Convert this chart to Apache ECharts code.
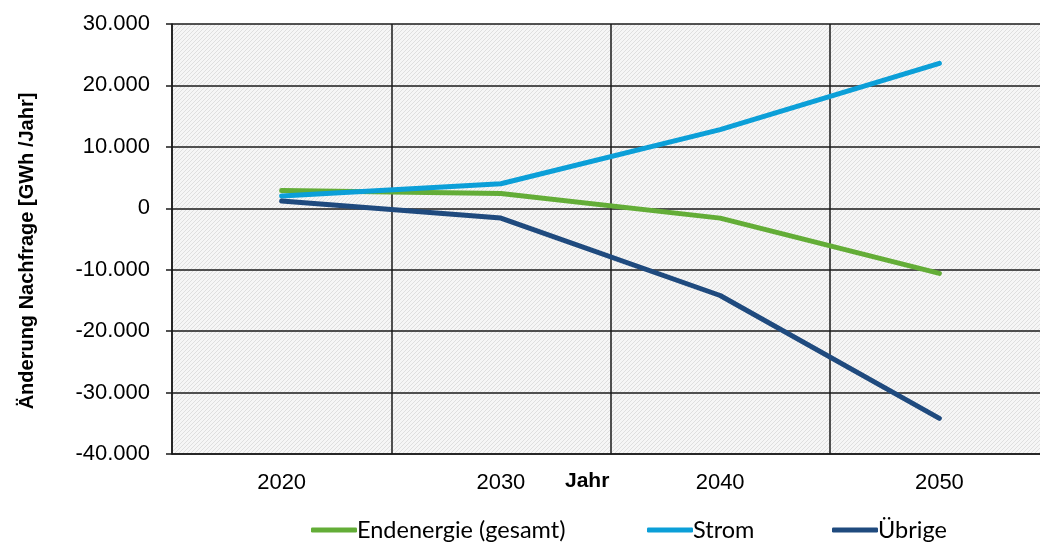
<!DOCTYPE html>
<html><head><meta charset="utf-8">
<script src="https://cdn.jsdelivr.net/npm/echarts@6/dist/echarts.min.js"></script>
<style>html,body{margin:0;padding:0;background:#fff}#c{width:1040px;height:545px}</style>
</head><body><div id="c"></div>
<script>
const categories = ['2020', '2030', '2040', '2050'];
const endenergie = [2900, 2400, -1600, -10600];
const strom = [2000, 4000, 12800, 23600];
const uebrige = [1200, -1600, -14200, -34200];
const yTicks = [-40000, 30000, 10000]; // min, max, interval
const seriesNames = ['Endenergie (gesamt)', 'Strom', 'Übrige'];
const colors = ['#63ad37', '#0b9fd8', '#1f4a7e'];

const pc = document.createElement('canvas');
pc.width = 4; pc.height = 4;
const g = pc.getContext('2d');
g.fillStyle = '#f6f6f6'; g.fillRect(0, 0, 4, 4);
g.strokeStyle = '#dcdcdc'; g.lineWidth = 0.9;
for (let k = -2; k <= 2; k++) {
  g.beginPath(); g.moveTo(k * 4 - 1, 5); g.lineTo(k * 4 + 5, -1); g.stroke();
}

const fmt = v => {
  const s = Math.abs(v).toString().replace(/\B(?=(\d{3})+(?!\d))/g, '.');
  return (v < 0 ? '-' : '') + s;
};

const chart = echarts.init(document.getElementById('c'));
const legendLefts = [311, 647, 832];
chart.setOption({
  animation: false,
  backgroundColor: '#fff',
  grid: { left: 172, top: 24, width: 877, height: 430, show: true, outerBoundsMode: 'none', containLabel: false,
    backgroundColor: { image: pc, repeat: 'repeat' }, borderWidth: 0 },
  legend: seriesNames.map((n, i) => ({
    data: [n], left: legendLefts[i], top: 518, icon: 'roundRect', padding: 0,
    itemWidth: 46, itemHeight: 5, itemGap: 0,
    textStyle: { fontFamily: 'Lato', fontSize: 23.5, color: '#000', padding: [0, 0, 0, -5] }
  })),
  xAxis: {
    type: 'category', data: categories, boundaryGap: true,
    axisLine: { onZero: false, lineStyle: { color: '#1a1a1a', width: 1.5 } },
    axisTick: { show: false },
    axisLabel: { margin: 18, fontFamily: 'Liberation Sans', fontSize: 22, color: '#000' },
    splitLine: { show: true, lineStyle: { color: '#1a1a1a', width: 1.5 } }
  },
  yAxis: {
    type: 'value', min: yTicks[0], max: yTicks[1], interval: yTicks[2],
    axisLine: { show: true, lineStyle: { color: '#1a1a1a', width: 1.5 } },
    axisTick: { show: true, inside: false, length: 6, lineStyle: { color: '#1a1a1a', width: 1.5 } },
    axisLabel: { margin: 22, fontFamily: 'Liberation Sans', fontSize: 22, color: '#000', formatter: fmt },
    splitLine: { show: true, lineStyle: { color: '#1a1a1a', width: 1.5 } }
  },
  graphic: [
    { type: 'text', left: 565, top: 471, style: { text: 'Jahr', font: 'bold 21px "Liberation Sans"', fill: '#000' } },
    { type: 'text', x: 27, y: 251, rotation: Math.PI / 2,
      style: { text: 'Änderung Nachfrage [GWh /Jahr]', font: 'bold 20px "Liberation Sans"', fill: '#000',
        align: 'center', verticalAlign: 'middle' } }
  ],
  series: [endenergie, strom, uebrige].map((d, i) => ({
    name: seriesNames[i], type: 'line', data: d, symbol: 'none',
    lineStyle: { color: colors[i], width: 5, cap: 'round' }, itemStyle: { color: colors[i] }, z: 3 + i
  }))
});
</script></body></html>
